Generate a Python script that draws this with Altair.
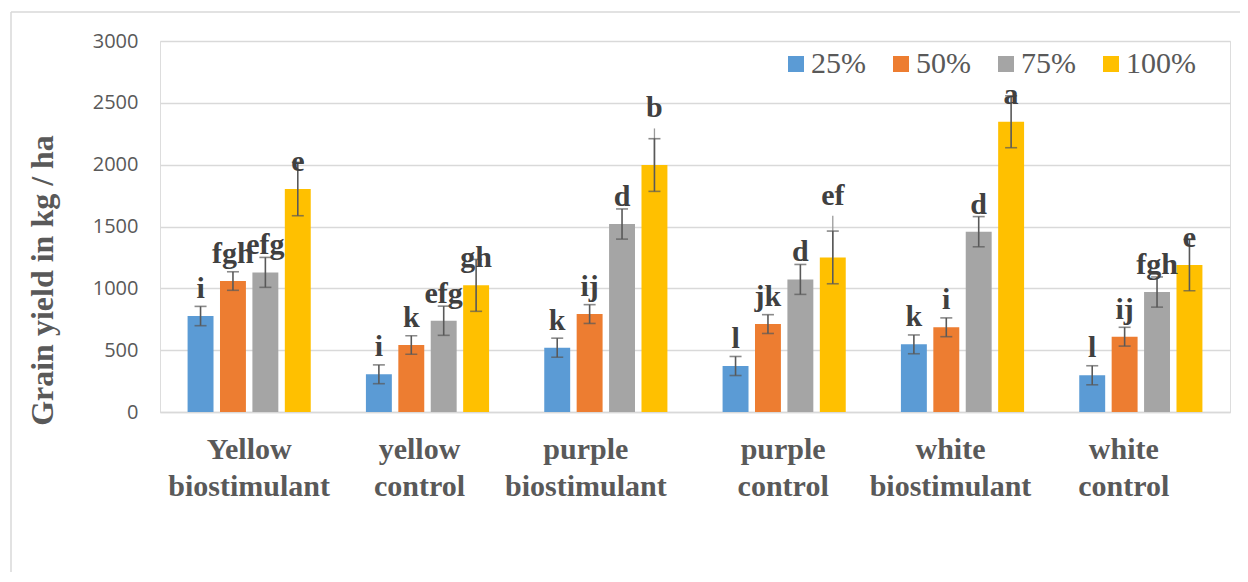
import altair as alt
import pandas as pd

categories = ["Yellow biostimulant", "yellow control", "purple biostimulant",
              "purple control", "white biostimulant", "white control"]
label_shift = [0, -8, -20, -1, -12, -17]
levels = ["25%", "50%", "75%", "100%"]
colors = ["#5B9BD5", "#ED7D31", "#A5A5A5", "#FFC000"]

means = {
    "25%": [776, 305, 520, 372, 547, 297],
    "50%": [1059, 542, 792, 711, 685, 609],
    "75%": [1129, 738, 1520, 1072, 1458, 970],
    "100%": [1803, 1024, 1997, 1250, 2347, 1188],
}
errors = {
    "25%": [78, 76, 77, 77, 76, 77],
    "50%": [75, 75, 76, 76, 76, 76],
    "75%": [121, 118, 122, 121, 122, 122],
    "100%": [216, 210, 213, 213, 210, 207],
}
letters = {
    "25%": ["i", "i", "k", "l", "k", "l"],
    "50%": ["fgh", "k", "ij", "jk", "i", "ij"],
    "75%": ["efg", "efg", "d", "d", "d", "fgh"],
    "100%": ["e", "gh", "b", "ef", "a", "e"],
}
# second (lighter) error bar tops visible on two bars
extra_tops = {
    "25%": [None] * 6,
    "50%": [None] * 6,
    "75%": [None] * 6,
    "100%": [None, None, 2293, 1587, None, None],
}

rows = []
for lv in levels:
    for i, c in enumerate(categories):
        m = means[lv][i]
        e = errors[lv][i]
        rows.append({"cat": c, "level": lv, "value": m, "lo": m - e, "hi": m + e,
                     "letter": letters[lv][i], "ext": extra_tops[lv][i]})
df = pd.DataFrame(rows)

offset_cond = {"condition": [{"test": f"datum.value === '{c}'", "value": s}
                             for c, s in zip(categories, label_shift) if s != 0],
               "value": 0}

x_enc = alt.X("cat:N", sort=categories, scale=alt.Scale(paddingInner=0.273, paddingOuter=0.1365),
              axis=alt.Axis(title=None, labelExpr="split(datum.label, ' ')", labelAngle=0,
                            labelFont="Liberation Serif", labelFontWeight="bold", labelFontSize=30,
                            labelColor="#595959", labelLineHeight=37, labelPadding=22,
                            labelOffset=offset_cond,
                            ticks=False, domainColor="#D9D9D9", domainWidth=1.3, grid=False))
xo_enc = alt.XOffset("level:N", sort=levels,
                     scale=alt.Scale(domain=levels, paddingInner=0.2, paddingOuter=0.1))

y_scale = alt.Scale(domain=[0, 3000], nice=False)

base = alt.Chart(df)

bars = base.mark_bar().encode(
    x=x_enc, xOffset=xo_enc,
    y=alt.Y("value:Q", scale=y_scale,
            axis=alt.Axis(title="Grain yield in kg / ha", values=[0, 500, 1000, 1500, 2000, 2500, 3000],
                          format="d",
                          labelFont="Open Sans", labelFontSize=20, labelColor="#595959",
                          labelPadding=22, ticks=False, domain=False,
                          gridColor="#D9D9D9", gridWidth=1.3,
                          titleFont="Liberation Serif", titleFontWeight="bold", titleFontSize=32,
                          titleColor="#595959", titleAngle=-90, titleX=-118, titleY=239,
                          titleAlign="center", titleBaseline="middle")),
    color=alt.Color("level:N", sort=levels,
                    scale=alt.Scale(domain=levels, range=colors),
                    legend=alt.Legend(title=None, orient="none", direction="horizontal",
                                      legendX=621, legendY=8, columns=4, columnPadding=20,
                                      symbolType="square", symbolSize=256, symbolStrokeWidth=0,
                                      labelFont="Liberation Serif", labelFontSize=30,
                                      labelColor="#595959", labelOffset=0, labelLimit=200)),
)

ext = base.mark_rule(color="#9A9A9A", strokeWidth=1.3).encode(
    x=alt.X("cat:N", sort=categories), xOffset=alt.XOffset("level:N", sort=levels),
    y=alt.Y("value:Q", scale=y_scale), y2="ext:Q",
).transform_filter("isValid(datum.ext)")

rules = base.mark_rule(color="#595959", strokeWidth=1.6).encode(
    x=alt.X("cat:N", sort=categories), xOffset=alt.XOffset("level:N", sort=levels),
    y=alt.Y("lo:Q", scale=y_scale), y2="hi:Q",
)
cap_lo = base.mark_tick(color="#595959", size=12, thickness=1.6).encode(
    x=alt.X("cat:N", sort=categories), xOffset=alt.XOffset("level:N", sort=levels),
    y=alt.Y("lo:Q", scale=y_scale),
)
cap_hi = base.mark_tick(color="#595959", size=12, thickness=1.6).encode(
    x=alt.X("cat:N", sort=categories), xOffset=alt.XOffset("level:N", sort=levels),
    y=alt.Y("hi:Q", scale=y_scale),
)

text_main = base.mark_text(font="Liberation Serif", fontWeight="bold", fontSize=30,
                           color="#404040", baseline="alphabetic", dy=-18).encode(
    x=alt.X("cat:N", sort=categories), xOffset=alt.XOffset("level:N", sort=levels),
    y=alt.Y("value:Q", scale=y_scale), text="letter:N",
).transform_filter("!isValid(datum.ext)")

text_ext = base.mark_text(font="Liberation Serif", fontWeight="bold", fontSize=30,
                          color="#404040", baseline="alphabetic", dy=-11).encode(
    x=alt.X("cat:N", sort=categories), xOffset=alt.XOffset("level:N", sort=levels),
    y=alt.Y("ext:Q", scale=y_scale), text="letter:N",
).transform_filter("isValid(datum.ext)")

frame_src = alt.Chart(pd.DataFrame({"a": [0]}))
frame_left = frame_src.mark_rule(stroke="#D9D9D9", strokeWidth=1.5).encode(
    x=alt.value(-149), y=alt.value(-29), y2=alt.value(600))
frame_top = frame_src.mark_rule(stroke="#D9D9D9", strokeWidth=1.5).encode(
    x=alt.value(-149), x2=alt.value(1150), y=alt.value(-29))

chart = alt.layer(frame_left, frame_top, bars, ext, rules, cap_lo, cap_hi,
                  text_main, text_ext).properties(
    width=1070, height=371,
    autosize=alt.AutoSizeParams(type="none"),
    padding={"left": 152, "top": 33, "right": 10, "bottom": 160},
).configure_view(stroke=None).configure(background="white")

chart.save("out.html", embed_options={"renderer": "svg", "actions": False})
